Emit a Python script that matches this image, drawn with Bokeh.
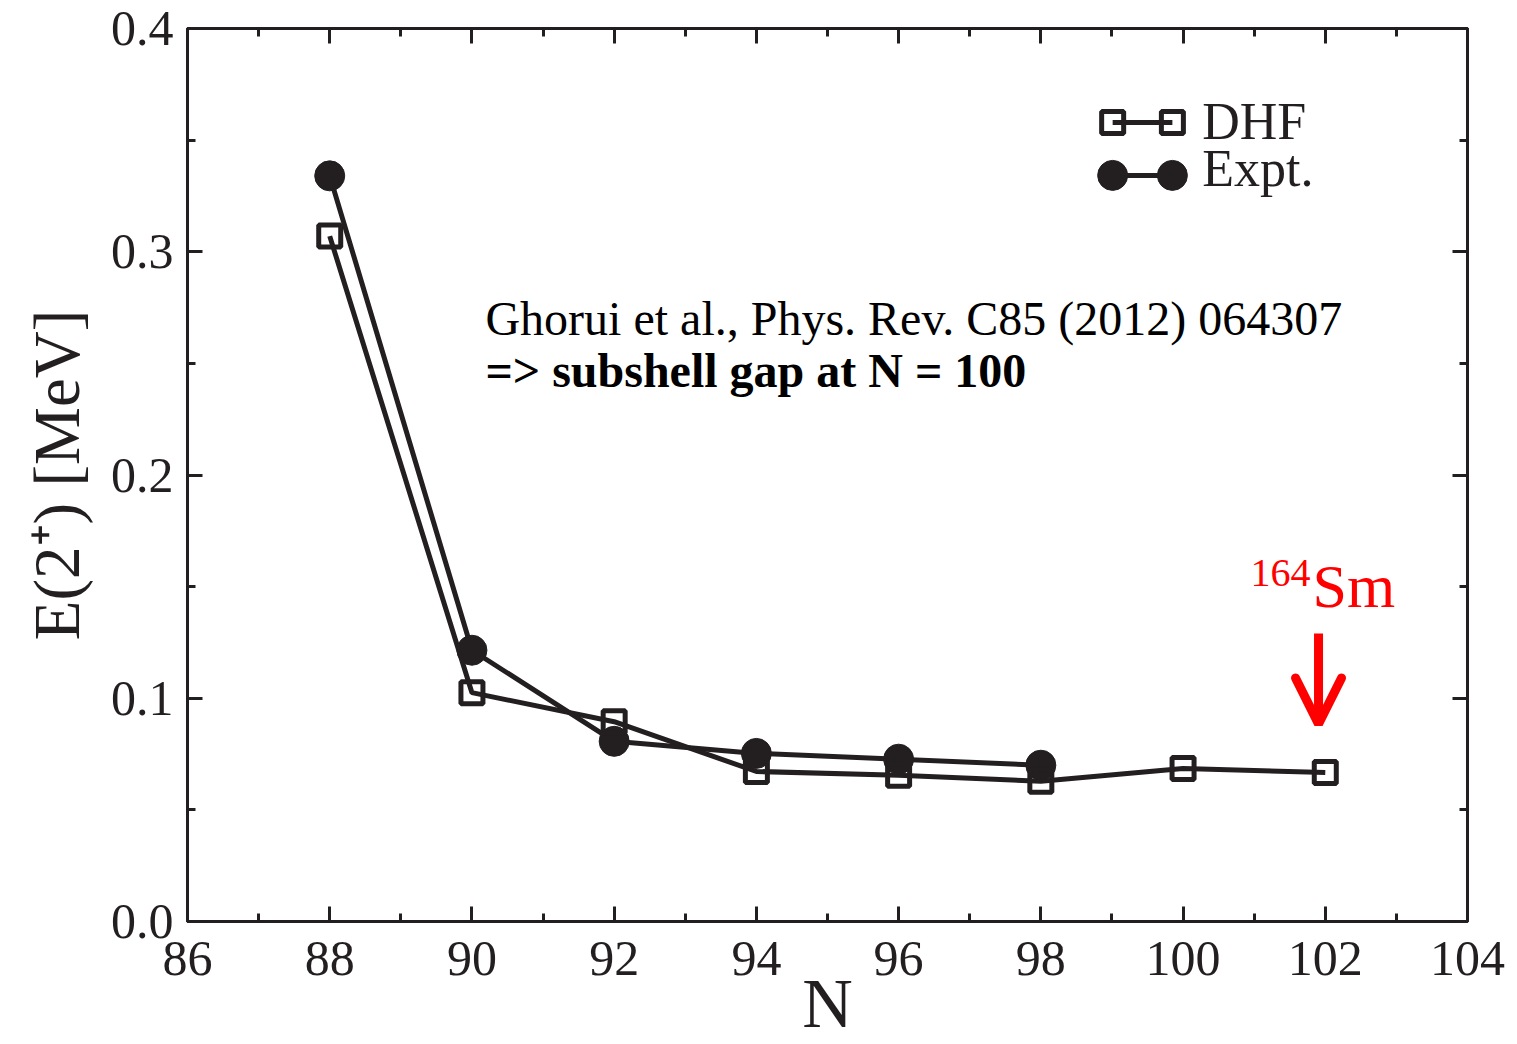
from bokeh.plotting import figure
from bokeh.models import (LinearAxis, FixedTicker, Range1d, Label, Arrow, OpenHead,
                          ColumnDataSource, PrintfTickFormatter)
from bokeh.embed import file_html
from bokeh.resources import INLINE

# E(2+) energies of the first excited state along the Sm isotope chain
n_dhf = [88, 90, 92, 94, 96, 98, 100, 102]
e_dhf = [0.307, 0.1025, 0.0895, 0.0672, 0.0655, 0.0628, 0.0685, 0.0667]

n_expt = [88, 90, 92, 94, 96, 98]
e_expt = [0.334, 0.1215, 0.0807, 0.0753, 0.0727, 0.0700]

x_major = [86, 88, 90, 92, 94, 96, 98, 100, 102, 104]
x_minor = [87, 89, 91, 93, 95, 97, 99, 101, 103]
y_major = [0.0, 0.1, 0.2, 0.3, 0.4]
y_minor = [0.05, 0.15, 0.25, 0.35]

INK = "#231f20"
SERIF = "Liberation Serif"

p = figure(width=1517, height=1044, output_backend="svg", toolbar_location=None,
           x_range=Range1d(86, 104), y_range=Range1d(0, 0.4),
           min_border_left=187, min_border_right=50, min_border_top=28,
           min_border_bottom=123, x_axis_location=None, y_axis_location=None)
p.grid.visible = False
p.outline_line_color = INK
p.outline_line_width = 3
p.background_fill_color = "white"
p.border_fill_color = "white"


def style_axis(ax, ticks, minor, show_labels, standoff=12):
    ax.ticker = FixedTicker(ticks=ticks, minor_ticks=minor)
    ax.axis_line_color = INK
    ax.axis_line_width = 3
    ax.major_tick_line_color = INK
    ax.major_tick_line_width = 3
    ax.minor_tick_line_color = INK
    ax.minor_tick_line_width = 3
    ax.major_tick_in = 15
    ax.major_tick_out = 0
    ax.minor_tick_in = 8
    ax.minor_tick_out = 0
    ax.major_label_text_font = SERIF
    if show_labels:
        ax.major_label_text_color = INK
        ax.major_label_text_font_size = "50px"
        ax.major_label_standoff = standoff
    else:
        # mirrored axes carry ticks only
        ax.major_label_text_color = None
        ax.major_label_text_font_size = "1px"
        ax.major_label_standoff = 0


xb = LinearAxis(axis_label="N")
style_axis(xb, x_major, x_minor, True, standoff=20)
xb.axis_label_text_font = SERIF
xb.axis_label_text_font_size = "70px"
xb.axis_label_text_font_style = "normal"
xb.axis_label_text_color = INK
xb.axis_label_standoff = -13
p.add_layout(xb, "below")

yl = LinearAxis(axis_label="E(2\u207a) [MeV]")
style_axis(yl, y_major, y_minor, True, standoff=14)
yl.formatter = PrintfTickFormatter(format="%.1f")
yl.axis_label_text_font = SERIF
yl.axis_label_text_font_size = "65px"
yl.axis_label_text_font_style = "normal"
yl.axis_label_text_color = INK
yl.axis_label_standoff = 15
p.add_layout(yl, "left")

xt = LinearAxis()
style_axis(xt, x_major, x_minor, False)
p.add_layout(xt, "above")

yr = LinearAxis()
style_axis(yr, y_major, y_minor, False)
p.add_layout(yr, "right")

# data series
src_dhf = ColumnDataSource(dict(n=n_dhf, e=e_dhf))
src_expt = ColumnDataSource(dict(n=n_expt, e=e_expt))

p.line("n", "e", source=src_expt, line_color=INK, line_width=5)
p.scatter("n", "e", source=src_expt, marker="circle", size=30,
          fill_color=INK, line_color=INK, line_width=1)
p.scatter("n", "e", source=src_dhf, marker="square", size=22,
          fill_color=None, line_color=INK, line_width=5)
p.line("n", "e", source=src_dhf, line_color=INK, line_width=5)

# legend drawn as short sample lines with markers at both ends
leg_x = [99.01, 99.85]
leg_y_dhf = 0.3579
leg_y_expt = 0.3342
p.line(leg_x, [leg_y_dhf, leg_y_dhf], line_color=INK, line_width=5)
p.scatter(leg_x, [leg_y_dhf, leg_y_dhf], marker="square", size=22,
          fill_color=None, line_color=INK, line_width=5)
p.line(leg_x, [leg_y_expt, leg_y_expt], line_color=INK, line_width=5)
p.scatter(leg_x, [leg_y_expt, leg_y_expt], marker="circle", size=30,
          fill_color=INK, line_color=INK)
p.add_layout(Label(x=100.27, y=0.3583, text="DHF", text_font=SERIF,
                   text_font_size="52px", text_color=INK,
                   text_baseline="alphabetic"))
p.add_layout(Label(x=100.27, y=0.3373, text="Expt.", text_font=SERIF,
                   text_font_size="52px", text_color=INK,
                   text_baseline="alphabetic"))

# reference and conclusion
p.add_layout(Label(x=90.19, y=0.2701, text="Ghorui et al., Phys. Rev. C85 (2012) 064307",
                   text_font=SERIF, text_font_size="48px", text_color="black",
                   text_baseline="alphabetic"))
p.add_layout(Label(x=90.19, y=0.2468, text="=> subshell gap at N = 100",
                   text_font=SERIF, text_font_size="48px", text_font_style="bold",
                   text_color="black", text_baseline="alphabetic"))

# 164Sm marker
p.add_layout(Label(x=100.95, y=0.1559, text="164", text_font=SERIF,
                   text_font_size="40px", text_color="red",
                   text_baseline="alphabetic"))
p.add_layout(Label(x=101.82, y=0.1505, text="Sm", text_font=SERIF,
                   text_font_size="62px", text_color="red",
                   text_baseline="alphabetic"))
p.add_layout(Arrow(end=OpenHead(line_color="red", line_width=9, size=46, line_cap="round"),
                   x_start=101.905, y_start=0.129, x_end=101.905, y_end=0.0885,
                   line_color="red", line_width=9))

open("out.html", "w").write(file_html(p, INLINE))
